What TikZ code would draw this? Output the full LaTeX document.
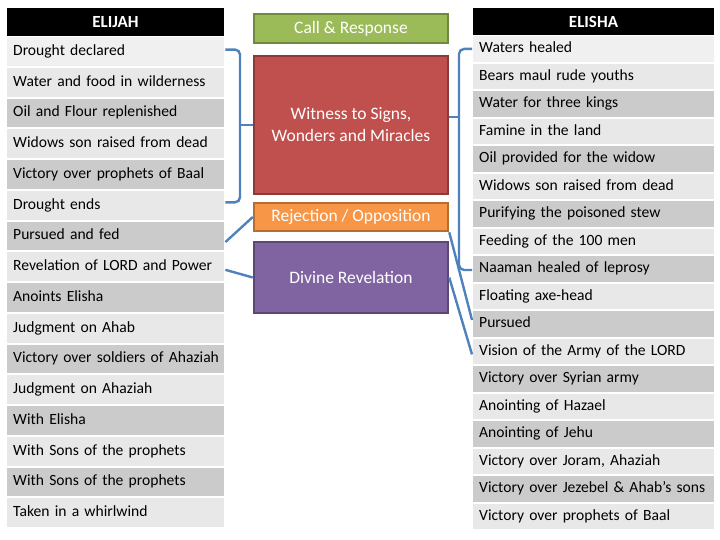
\documentclass[tikz,border=0pt]{standalone}
\usepackage{fontspec}
\setmainfont{Carlito}
\usepackage{tikz}

\tikzset{
  row/.style={fill=#1, anchor=north west, inner xsep=6pt, inner ysep=0pt, align=left,
    text height=11pt, text depth=3.5pt, font=\fontsize{15.6}{19}\selectfont},
  head/.style={fill=black, text=white, inner sep=0pt, font=\bfseries\fontsize{17}{20}\selectfont},
  theme/.style 2 args={fill=#1, draw=#2, line width=2.5pt, text=white, inner sep=0pt,
    minimum width=194pt, align=center, font=\fontsize{17.5}{22}\selectfont},
  link/.style={draw=linkblue, line width=2.4pt, rounded corners=5pt}
}

\begin{document}
\begin{tikzpicture}[x=1pt,y=-1pt]
    \definecolor{rowtop}{RGB}{240,240,240}
    \definecolor{rowlight}{RGB}{232,232,232}
    \definecolor{rowdark}{RGB}{203,203,203}
    \definecolor{linkblue}{RGB}{79,129,189}
    \definecolor{callfill}{RGB}{155,187,89}
    \definecolor{callline}{RGB}{113,137,63}
    \definecolor{witfill}{RGB}{192,80,77}
    \definecolor{witline}{RGB}{140,58,56}
    \definecolor{rejfill}{RGB}{247,150,70}
    \definecolor{rejline}{RGB}{182,109,49}
    \definecolor{divfill}{RGB}{128,100,162}
    \definecolor{divline}{RGB}{92,71,118}
    \useasboundingbox (0,0) rectangle (720,540);

    % headers
    \node[head, minimum width=217pt, minimum height=28pt] (elijah) at (115.5,22) {ELIJAH};
    \node[head, minimum width=241pt, minimum height=27pt] (elisha) at (593.5,21.5) {ELISHA};

    % Elijah column
    \foreach \t [count=\i] in {Drought declared, Water and food in wilderness, Oil and Flour replenished,
        Widows son raised from dead, Victory over prophets of Baal, Drought ends, Pursued and fed,
        Revelation of LORD and Power, Anoints Elisha, Judgment on Ahab, Victory over soldiers of Ahaziah,
        Judgment on Ahaziah, With Elisha, With Sons of the prophets, With Sons of the prophets,
        Taken in a whirlwind} {
      \pgfmathsetmacro\ytop{37+(\i-1)*30.75}
      \ifnum\i=1 \def\rc{rowtop}\else\ifodd\i \def\rc{rowdark}\else \def\rc{rowlight}\fi\fi
      \node[row=\rc, text width=205pt, minimum height=28.75pt] (L\i) at (7,\ytop) {\mbox{\t}};
    }

    % Elisha column
    \foreach \t [count=\i] in {Waters healed, Bears maul rude youths, Water for three kings,
        Famine in the land, Oil provided for the widow, Widows son raised from dead,
        Purifying the poisoned stew, Feeding of the 100 men, Naaman healed of leprosy,
        Floating axe-head, Pursued, Vision of the Army of the LORD, Victory over Syrian army,
        Anointing of Hazael, Anointing of Jehu, {Victory over Joram, Ahaziah},
        Victory over Jezebel \& Ahab’s sons, Victory over prophets of Baal} {
      \pgfmathsetmacro\ytop{36+(\i-1)*27.5}
      \ifnum\i=1 \def\rc{rowtop}\else\ifodd\i \def\rc{rowdark}\else \def\rc{rowlight}\fi\fi
      \node[row=\rc, text width=229pt, minimum height=25.5pt] (R\i) at (473,\ytop) {\mbox{\t}};
    }

    % themes in the middle
    \node[theme={callfill}{callline}, minimum height=29pt] (call) at (351,28.5) {Call \& Response};
    \node[theme={witfill}{witline}, minimum height=138pt] (witness) at (351,125) {Witness to Signs,\\Wonders and Miracles};
    \node[theme={rejfill}{rejline}, minimum height=28pt] (rej) at (351,217) {Rejection / Opposition};
    \node[theme={divfill}{divline}, minimum height=71pt] (div) at (351,277.5) {Divine Revelation};

    % brackets
    \coordinate (lspine) at (240,125);
    \coordinate (rspine) at (459,117);
    \draw[link] ([xshift=1pt,yshift=2pt]L1.east) -| (lspine) |- ([xshift=1pt,yshift=3pt]L6.east);
    \draw[link] (lspine) -- (witness.west);
    \draw[link] ([xshift=-1pt]R1.west) -| (rspine) |- ([xshift=-1pt,yshift=-1pt]R9.west);
    \draw[link] (rspine) -- (rspine -| witness.east);

    % single links
    \draw[link] ([xshift=1pt,yshift=-6pt]L7.east) -- (rej.west);
    \draw[link] ([xshift=1pt,yshift=-3pt]L8.east) -- (div.west);
    \draw[link] (rej.south east) -- ([xshift=-1pt,yshift=4pt]R11.west);
    \draw[link] (div.east) -- ([xshift=-1pt,yshift=-3pt]R12.west);
  \end{tikzpicture}
\end{document}
